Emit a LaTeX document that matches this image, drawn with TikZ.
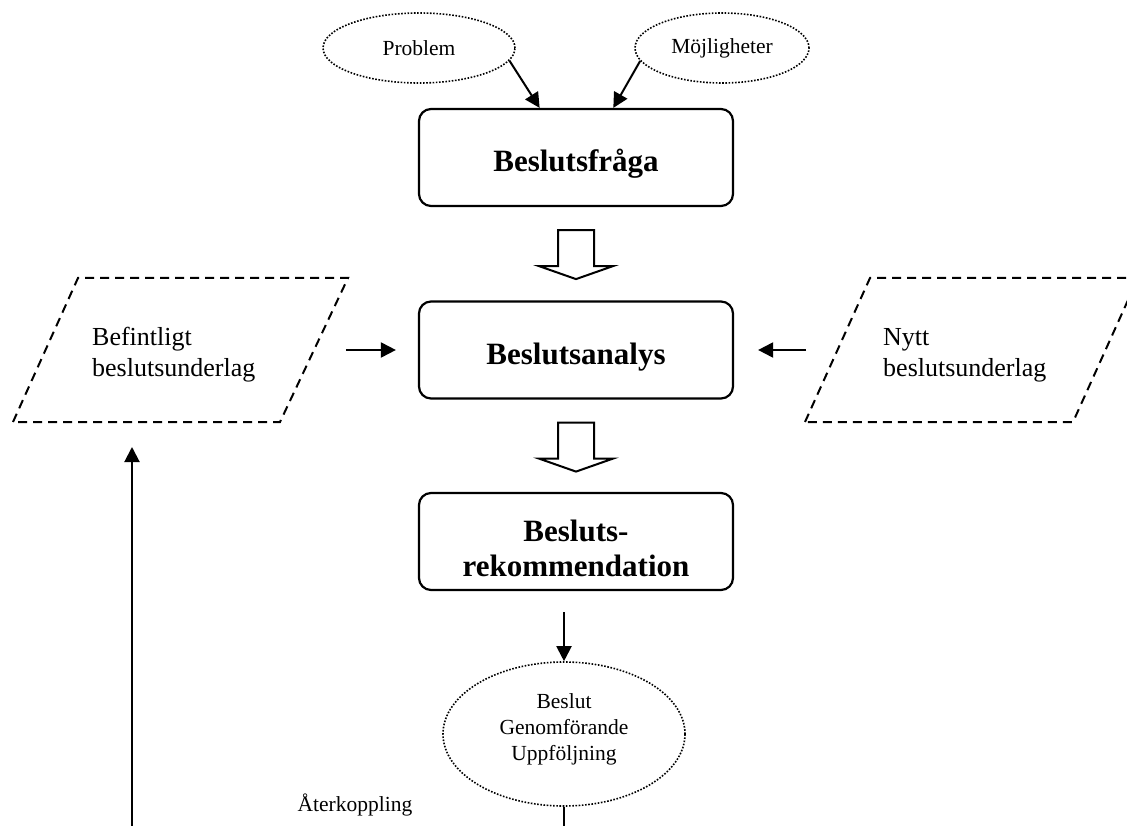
\documentclass[tikz,border=0pt]{standalone}
\usepackage{fontspec}
\setmainfont{Liberation Serif}
\usetikzlibrary{shapes.geometric,arrows.meta,calc}
\newcommand{\topstrut}{\rule{0pt}{35pt}}
\newcommand{\botstrut}{\rule[-13pt]{0pt}{0pt}}
\begin{document}
\begin{tikzpicture}[x=1pt,y=-1pt,
  lw/.style={line width=2pt},
  titlebox/.style={draw,line width=2.2pt,rounded corners=12pt,minimum width=314pt,minimum height=97pt,align=center,font=\fontsize{31}{35}\selectfont\bfseries,inner sep=0pt},
  oval/.style={draw,ellipse,line width=1.6pt,dash pattern=on 1.6pt off 1.6pt,inner sep=0pt,align=center,font=\fontsize{21.5}{26}\selectfont},
  para/.style={draw,line width=2pt,dash pattern=on 9pt off 6pt},
  lbl/.style={align=left,font=\fontsize{26}{31}\selectfont,inner sep=0pt,anchor=west},
  small/.style={font=\fontsize{21.5}{26}\selectfont,inner sep=0pt},
  arr/.style={line width=2pt,-{Triangle[length=15pt,width=15pt]}},
  hollow/.style={draw,line width=2pt,fill=white,line join=miter}
]
\useasboundingbox (0,0) rectangle (1127,826);
\clip (0,0) rectangle (1127,826);

% ellipses at the top
\node[oval,minimum width=192pt,minimum height=70pt] (prob) at (419,48) {Problem};
\node[oval,minimum width=174pt,minimum height=70pt] (moj) at (722,48) {Möjligheter};

% main boxes
\node[titlebox] (fraga) at (576,157.5) {\topstrut Beslutsfråga};
\node[titlebox] (analys) at (576,350) {\topstrut Beslutsanalys};
\node[titlebox] (rek) at (576,541.5) {\topstrut Besluts-\\rekommendation};

% lower ellipse
\node[oval,minimum width=242pt,minimum height=144pt] (beslut) at (564,734) {Beslut\\Genomförande\\Uppföljning\botstrut};

% parallelograms
\draw[para] (13,422) coordinate (befbl) -- (78,278) -- (348,278) -- (280,422) -- cycle;
\draw[para] (805,422) coordinate (nyttbl) -- (870,278) -- (1138,278) -- (1073,422) -- cycle;
\node[lbl] (bef) at (92,355) {Befintligt\\beslutsunderlag};
\node[lbl] (nytt) at (883,355) {Nytt\\beslutsunderlag};

\node[small] (ater) at (355,805) {Återkoppling};

% connectors
\draw[arr] (prob.-8) -- ($(fraga.north west)!0.385!(fraga.north east)$);
\draw[arr] (moj.189) -- ($(fraga.north west)!0.618!(fraga.north east)$);

\foreach \n in {fraga,analys}
  \draw[hollow] ($(\n.south)+(-18,23)$) -- ++(36,0) -- ++(0,36) -- ++(19,0)
     -- ++(-37,13) -- ++(-37,-13) -- ++(19,0) -- cycle;

\draw[arr] ($(analys.west)+(-72,0)$) -- ($(analys.west)+(-22,0)$);
\draw[arr] ($(analys.east)+(72,0)$) -- ($(analys.east)+(24,0)$);

\draw[arr] ($(beslut.north)+(0,-49)$) -- (beslut.north);
\draw[lw] (beslut.south) -- ++(0,30);

\coordinate (fbstart) at (132,830);
\draw[arr] (fbstart) -- (132,447);
\end{tikzpicture}
\end{document}
